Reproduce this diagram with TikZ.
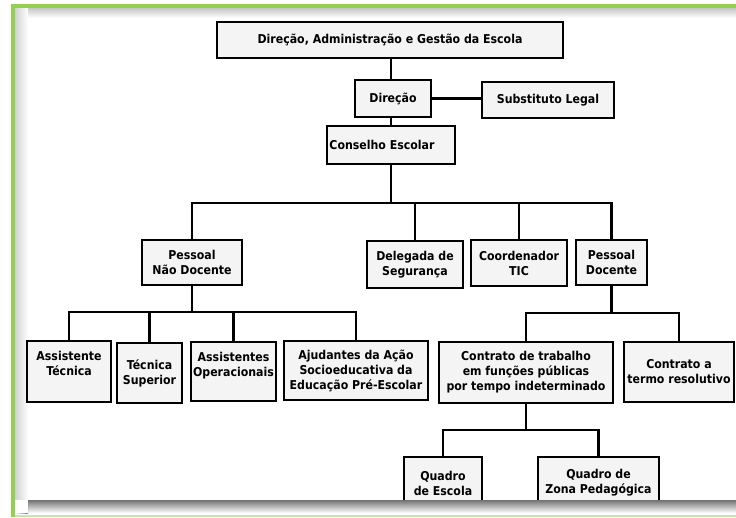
\documentclass[tikz,border=0pt]{standalone}
\usepackage{fontspec}
\setmainfont{DejaVu Sans}[FakeStretch=0.9]
\usetikzlibrary{positioning}
\definecolor{frgreen}{HTML}{92D050}
\definecolor{frlight}{HTML}{C8E6AA}
\definecolor{boxfill}{HTML}{F4F4F4}
\tikzset{
  boxtext/.style={inner sep=0pt, align=center, font=\fontsize{12.2}{15}\selectfont\bfseries},
  box/.style={draw=black, fill=boxfill, line width=2.2pt, boxtext},
  link/.style={draw=black, line width=2.2pt},
  thin link/.style={draw=black, line width=1.5pt},
}
\begin{document}
\begin{tikzpicture}[x=1pt, y=-1pt]
\useasboundingbox (0,0) rectangle (736,517);
\fill[white] (0,0) rectangle (736,517);
% frame
\fill[frgreen] (11,4) rectangle (736,8);
\fill[frgreen] (11,4) rectangle (15,517);
\fill[frlight] (15,514.5) rectangle (736,516.5);
% inner panel shadows
\shade[top color=black!22, bottom color=white] (15,8) rectangle (736,18);
\shade[left color=black!18, right color=white] (15,8) rectangle (28,500);
\begin{scope}
\clip (15,8) rectangle (736,500);
% nodes
\node[box, minimum width=346pt, minimum height=36pt] (top) at (390,40) {Direção, Administração e Gestão da Escola};
\node[box, minimum width=76pt, minimum height=37pt] (dir) at (393,98.5) {Direção};
\node[box, minimum width=132pt, minimum height=36pt] (sub) at (548,100) {Substituto Legal};
\node[box, minimum width=128pt, minimum height=38pt] (cons) at (391,145) {Conselho Escolar\hspace*{18pt}};
\node[box, minimum width=100pt, minimum height=45pt] (pnd) at (192,262.5) {Pessoal\\Não Docente};
\node[box, minimum width=96pt, minimum height=47pt] (del) at (415,264.5) {Delegada de\\Segurança};
\node[box, minimum width=96pt, minimum height=46pt] (tic) at (519,263) {Coordenador\\TIC};
\node[box, minimum width=71pt, minimum height=45pt] (pd) at (611.5,262.5) {Pessoal\\Docente};
\node[box, minimum width=84pt, minimum height=61pt,
  label={[boxtext, yshift=8pt]center:Assistente\\Técnica}] (at) at (69,371.5) {};
\node[box, minimum width=65pt, minimum height=60pt] (ts) at (149.5,373) {Técnica\\Superior};
\node[box, minimum width=85pt, minimum height=59pt,
  label={[boxtext, yshift=6pt]center:Assistentes\\Operacionais}] (ao) at (233.5,371.5) {};
\node[box, minimum width=144pt, minimum height=59pt] (aj) at (356,370.5) {Ajudantes da Ação\\Socioeducativa da\\Educação Pré-Escolar};
\node[box, minimum width=174pt, minimum height=61pt] (ct) at (526,372.5) {Contrato de trabalho\\em funções públicas\\por tempo indeterminado};
\node[box, minimum width=110pt, minimum height=60pt] (tr) at (679,372) {Contrato a\\termo resolutivo};
\node[box, minimum width=78pt, minimum height=52pt] (qe) at (443,483) {Quadro\\de Escola};
\node[box, minimum width=121pt, minimum height=52pt] (qz) at (598.5,483) {Quadro de\\Zona Pedagógica};
% connectors
\draw[link] (top.south -| dir.north) ++(-2,0) coordinate (t1) -- (t1 |- dir.north);
\draw[link] (dir.east) -- (sub.west |- dir.east);
\draw[link] (dir.south) ++(-2,0) coordinate (d1) -- (d1 |- cons.north);
\coordinate (bus1) at (391,203);
\draw[link] (cons.south) -- (bus1);
\draw[link] (pnd.north) |- (bus1) -| (pd.north);
\draw[thin link] (del.north) -- (del.north |- bus1);
\draw[thin link] (tic.north) -- (tic.north |- bus1);
\coordinate (bus2) at (192,312);
\draw[link] (pnd.south) -- (bus2);
\draw[link] (at.north) |- (bus2) -| (aj.north);
\draw[link] (ts.north) -- (ts.north |- bus2);
\draw[link] (ao.north) -- (ao.north |- bus2);
\coordinate (bus3) at (611.5,313);
\draw[link] (pd.south) -- (bus3);
\draw[link] (ct.north) |- (bus3) -| (tr.north);
\coordinate (bus4) at (526,430);
\draw[link] (ct.south) -- (bus4);
\draw[link] (qe.north) |- (bus4) -| (qz.north);
\end{scope}
% bottom shadow
\shade[top color=black!55, bottom color=white] (28,500) rectangle (736,513);
\shade[left color=white, right color=black!55] (15,500) rectangle (28,513);
\fill[white] (15,500) rectangle (28,513);
\end{tikzpicture}
\end{document}
